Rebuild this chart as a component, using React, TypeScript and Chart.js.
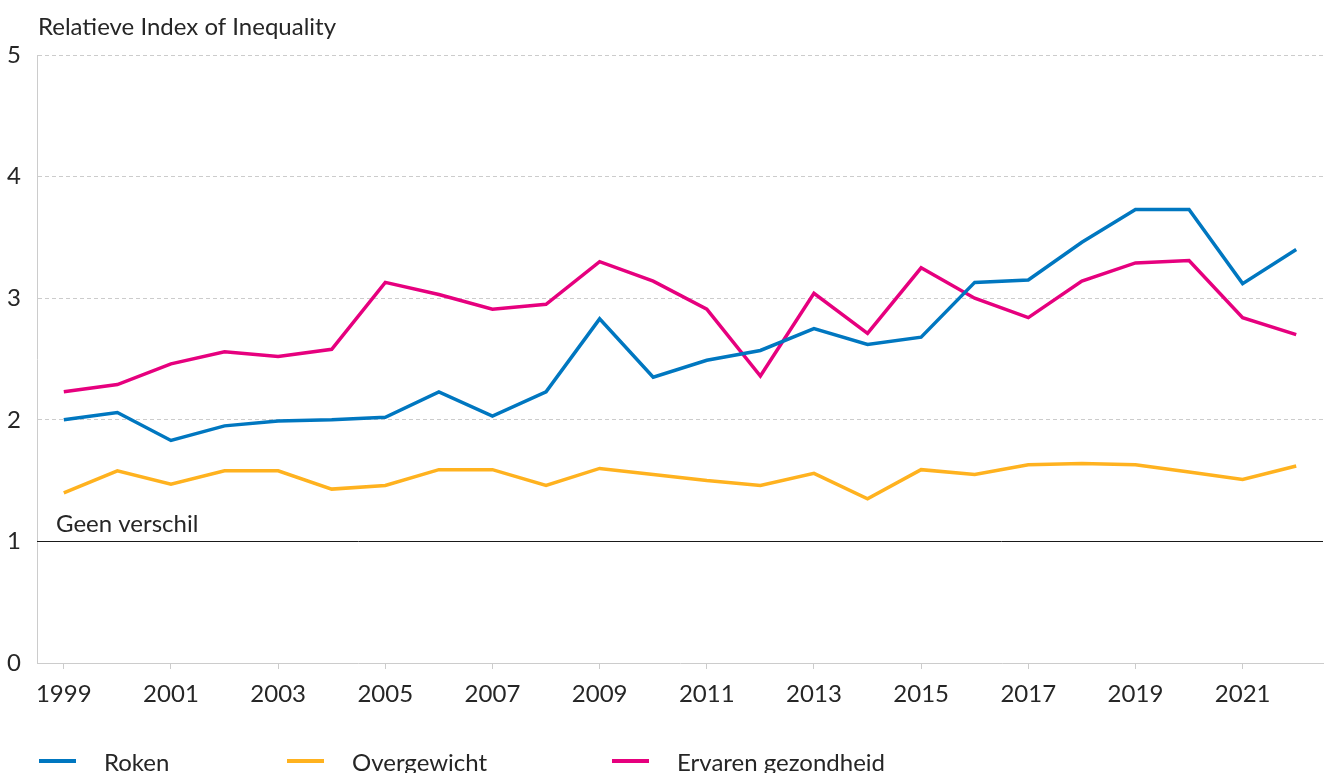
import React, { useEffect, useRef } from "react";
import { Chart, registerables } from "chart.js";

Chart.register(...registerables);

const years = ["1999","2000","2001","2002","2003","2004","2005","2006","2007","2008","2009","2010","2011","2012","2013","2014","2015","2016","2017","2018","2019","2020","2021","2022"];
const roken = [2.0, 2.06, 1.83, 1.95, 1.99, 2.0, 2.02, 2.23, 2.03, 2.23, 2.83, 2.35, 2.49, 2.57, 2.75, 2.62, 2.68, 3.13, 3.15, 3.46, 3.73, 3.73, 3.12, 3.40];
const overgewicht = [1.40, 1.58, 1.47, 1.58, 1.58, 1.43, 1.46, 1.59, 1.59, 1.46, 1.60, 1.55, 1.50, 1.46, 1.56, 1.35, 1.59, 1.55, 1.63, 1.64, 1.63, 1.57, 1.51, 1.62];
const ervaren = [2.23, 2.29, 2.46, 2.56, 2.52, 2.58, 3.13, 3.03, 2.91, 2.95, 3.30, 3.14, 2.91, 2.36, 3.04, 2.71, 3.25, 3.00, 2.84, 3.14, 3.29, 3.31, 2.84, 2.70];
const yTicks = [0, 1, 2, 3, 4, 5];
const seriesNames = ["Roken", "Overgewicht", "Ervaren gezondheid"];
const seriesColors = ["#0077c0", "#ffb21f", "#e6007e"];
const titleText = "Relatieve Index of Inequality";
const refLabel = "Geen verschil";
const refValue = 1;

const FONT = "Lato";
const FSIZE = 24;
const TEXT = "#262626";

const overlayPlugin = {
  id: "overlay",
  afterDraw(chart: any) {
    const { ctx, chartArea, scales } = chart;
    const y = scales.y;
    ctx.save();
    const yp = Math.round(y.getPixelForValue(refValue)) + 0.5;
    ctx.strokeStyle = "#1a1a1a";
    ctx.lineWidth = 1;
    ctx.beginPath();
    ctx.moveTo(chartArea.left, yp);
    ctx.lineTo(chartArea.right, yp);
    ctx.stroke();
    ctx.fillStyle = TEXT;
    ctx.font = `${FSIZE}px ${FONT}`;
    ctx.textAlign = "left";
    ctx.textBaseline = "alphabetic";
    ctx.fillText(refLabel, chartArea.left + 19, yp - 10);
    ctx.fillText(titleText, 38, 35);
    const xs = [39, 287, 612];
    const ly = 761;
    chart.data.datasets.forEach((ds: any, i: number) => {
      ctx.fillStyle = ds.borderColor;
      ctx.fillRect(xs[i], ly - 2, 37, 4);
      ctx.fillStyle = TEXT;
      ctx.fillText(ds.label, xs[i] + 65, 771);
    });
    ctx.restore();
  },
};

export default function App() {
  const ref = useRef<HTMLCanvasElement | null>(null);
  useEffect(() => {
    document.body.style.margin = "0";
    const canvas = ref.current!;
    const chart = new Chart(canvas, {
      type: "line",
      data: {
        labels: years,
        datasets: [roken, overgewicht, ervaren].map((d, i) => ({
          label: seriesNames[i],
          data: d,
          borderColor: seriesColors[i],
          backgroundColor: seriesColors[i],
          borderWidth: 3.5,
          pointRadius: 0,
          tension: 0,
          fill: false,
        })),
      },
      options: {
        responsive: false,
        animation: false,
        devicePixelRatio: 1,
        layout: { padding: { top: 55, right: 3, left: 0, bottom: 0 } },
        plugins: { legend: { display: false }, title: { display: false }, tooltip: { enabled: false } },
        scales: {
          x: {
            type: "category",
            offset: true,
            grid: {
              display: true,
              offset: false,
              drawOnChartArea: false,
              drawTicks: true,
              tickLength: 6,
              tickColor: (c: any) => (c.index % 2 === 0 ? "#cccccc" : "rgba(0,0,0,0)"),
            },
            border: { display: true, color: "#cccccc", width: 1 },
            ticks: {
              autoSkip: false,
              maxRotation: 0,
              padding: 11,
              color: TEXT,
              font: { family: FONT, size: FSIZE },
              callback: function (this: any, v: any, i: number) {
                return i % 2 === 0 ? years[i] : "";
              },
            },
            afterFit: (s: any) => { s.height = 110; },
          },
          y: {
            min: 0,
            max: 5,
            afterBuildTicks: (s: any) => { s.ticks = yTicks.map((v) => ({ value: v })); },
            grid: {
              drawTicks: false,
              color: (c: any) => (c.tick && c.tick.value >= 2 ? "#cccccc" : "rgba(0,0,0,0)"),
              lineWidth: 1,
            },
            border: { display: true, color: "#cccccc", width: 1, dash: [4, 3] },
            ticks: {
              padding: 16,
              color: TEXT,
              font: { family: FONT, size: FSIZE },
            },
            afterFit: (s: any) => { s.width = 37; },
          },
        },
      },
      plugins: [overlayPlugin],
    });
    return () => chart.destroy();
  }, []);
  return <canvas ref={ref} width={1326} height={773} style={{ display: "block" }} />;
}
